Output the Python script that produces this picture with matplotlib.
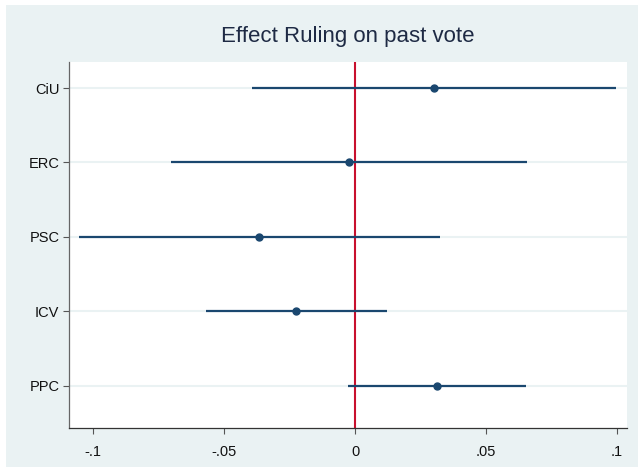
import matplotlib
matplotlib.use("Agg")
import matplotlib.pyplot as plt
from matplotlib.patches import Rectangle

categories = ["CiU", "ERC", "PSC", "ICV", "PPC"]
estimates = [0.0300, -0.0023, -0.0366, -0.0225, 0.0314]
ci_low = [-0.0392, -0.0704, -0.1052, -0.0570, -0.0028]
ci_high = [0.0995, 0.0658, 0.0323, 0.0122, 0.0654]
xticks = [-0.1, -0.05, 0, 0.05, 0.1]
xticklabels = ["-.1", "-.05", "0", ".05", ".1"]

plt.rcParams['font.family'] = ['Liberation Sans', 'DejaVu Sans']

bg = "#eaf2f3"
navy = "#1a476f"
fig = plt.figure(figsize=(6.38, 4.67), dpi=100)
fig.patch.set_facecolor("white")
fig.add_artist(Rectangle((6/638, 0), 1, 1 - 5/467, transform=fig.transFigure,
                         facecolor=bg, edgecolor="none", zorder=-10))

ax = fig.add_axes([69/638, 1 - 428/467, (627 - 69)/638, (428 - 62)/467])
ax.set_facecolor("white")

ypos = list(range(1, len(categories) + 1))
for y in ypos:
    ax.axhline(y, color=bg, lw=1.5, zorder=0)
ax.axvline(0, color="#c8102e", lw=1.5, zorder=1)
for y, lo, hi in zip(ypos, ci_low, ci_high):
    ax.plot([lo, hi], [y, y], color=navy, lw=1.6, zorder=2, solid_capstyle="butt")
ax.plot(estimates, ypos, "o", color=navy, ms=5, zorder=3)

ax.set_xlim(-0.1092, 0.1038)
ax.set_ylim(5.57, 0.65)
ax.set_yticks(ypos)
ax.set_yticklabels(categories, fontsize=10.5, color="#111111")
ax.set_xticks(xticks)
ax.set_xticklabels(xticklabels, fontsize=10.5, color="#111111")
ax.tick_params(axis="both", direction="out", length=4, width=0.8, color="#555555", pad=3)
ax.tick_params(axis="x", pad=8)
for s in ["top", "right"]:
    ax.spines[s].set_visible(False)
ax.spines["left"].set_color("#666666")
ax.spines["bottom"].set_color("#333333")
for s in ["left", "bottom"]:
    ax.spines[s].set_linewidth(0.9)

fig.text(348/638, 1 - 42.3/467, "Effect Ruling on past vote", ha="center", va="baseline",
         fontsize=16, color="#1e2a44")

fig.savefig("out.png", dpi=100, facecolor=fig.get_facecolor())
